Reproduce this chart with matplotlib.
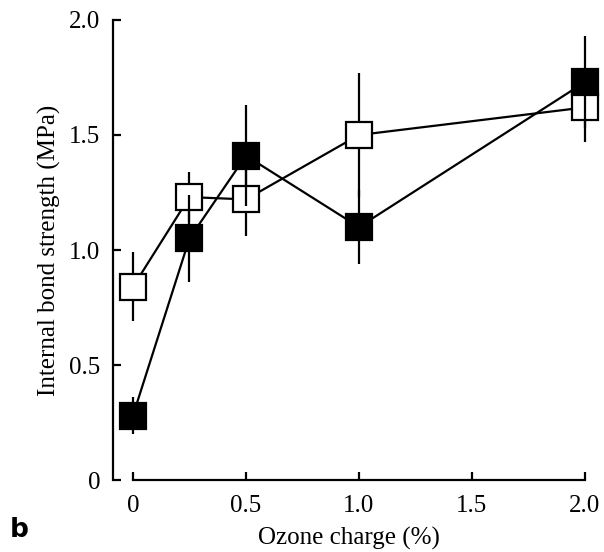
import numpy as np
import matplotlib
matplotlib.use("Agg")
import matplotlib.pyplot as plt

# ozone charge (%)
ozone = [0, 0.25, 0.5, 1.0, 2.0]
# open squares
open_ib = [0.84, 1.23, 1.22, 1.50, 1.62]
open_err = [0.15, 0.11, 0.16, 0.27, 0.15]
# filled squares
filled_ib = [0.28, 1.05, 1.41, 1.10, 1.73]
filled_err = [0.08, 0.19, 0.22, 0.16, 0.20]

plt.rcParams['font.family'] = ['Liberation Serif', 'DejaVu Serif']

fig = plt.figure(figsize=(6.04, 5.52), dpi=100)
ax = fig.add_axes([0.187, 0.1304, 0.7815, 0.8334])

for y, e, fc, z in [(open_ib, open_err, 'white', 3), (filled_ib, filled_err, 'black', 4)]:
    lines = ax.errorbar(ozone, y, yerr=e, fmt='-s', color='black', lw=1.6,
                        elinewidth=1.6, capsize=0, markersize=19, markerfacecolor=fc,
                        markeredgecolor='black', markeredgewidth=1.6, zorder=z)
    for art in lines.get_children():
        art.set_clip_on(False)

ax.set_xlim(-0.0885, 2.0)
ax.set_ylim(0, 2.0)
ax.set_xticks([0, 0.5, 1.0, 1.5, 2.0])
ax.set_xticklabels(['0', '0.5', '1.0', '1.5', '2.0'])
ax.set_yticks([0, 0.5, 1.0, 1.5, 2.0])
ax.set_yticklabels(['0', '0.5', '1.0', '1.5', '2.0'])
ax.tick_params(direction='in', length=6, width=1.6, labelsize=18)
ax.tick_params(axis='x', pad=11)
ax.tick_params(axis='y', pad=9)
for s in ['top', 'right']:
    ax.spines[s].set_visible(False)
for s in ['left', 'bottom']:
    ax.spines[s].set_linewidth(1.6)
ax.spines['bottom'].set_bounds(0, 2.0)

ax.set_xlabel('Ozone charge (%)', fontsize=18, labelpad=7)
ax.set_ylabel('Internal bond strength (MPa)', fontsize=18, labelpad=6)

fig.text(0.016, 0.027, 'b', fontsize=19, fontweight='bold', family='DejaVu Sans')

fig.savefig('out.png', dpi=100)
